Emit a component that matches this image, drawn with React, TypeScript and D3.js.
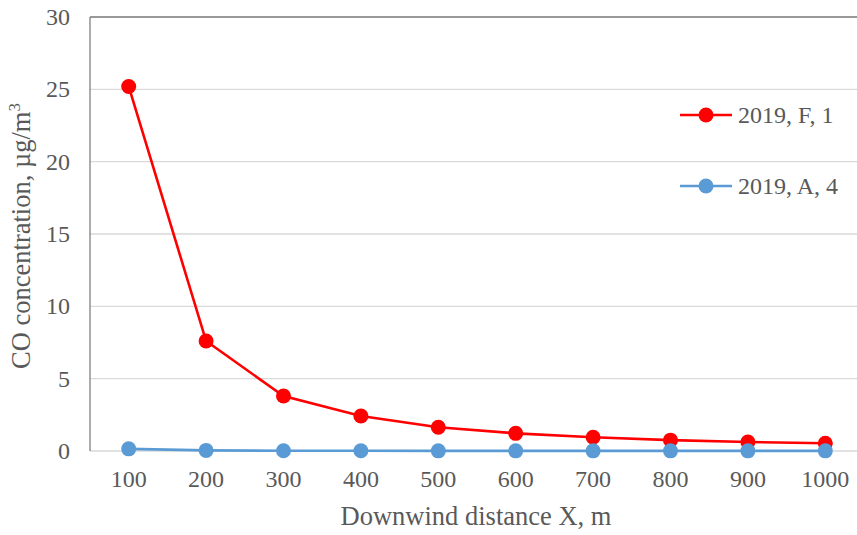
import React from "react";
import * as d3 from "d3";

const categories = ["100", "200", "300", "400", "500", "600", "700", "800", "900", "1000"];
const seriesF1 = [25.2, 7.6, 3.8, 2.42, 1.64, 1.22, 0.95, 0.75, 0.62, 0.54];
const seriesA4 = [0.15, 0.04, 0.02, 0.02, 0.01, 0.01, 0.01, 0.01, 0.01, 0.01];
const yTicks = [0, 5, 10, 15, 20, 25, 30];
const seriesNames = ["2019, F, 1", "2019, A, 4"];
const seriesColors = ["#ff0000", "#5b9bd5"];

export default function App() {
  const W = 857, H = 535;
  const left = 90, top = 17, bottom = 451, right = 864;
  const x = d3.scaleBand<string>().domain(categories).range([left, right]);
  const y = d3.scaleLinear().domain([0, 30]).range([bottom, top]);
  const cx = (c: string) => (x(c) as number) + x.bandwidth() / 2;
  const line = d3
    .line<number>()
    .x((_, i) => cx(categories[i]))
    .y((d) => y(d));
  const font = '"Liberation Serif", "Times New Roman", Times, serif';
  const tc = "#595959";
  const all = [seriesF1, seriesA4];
  const legY = [115, 186];
  return (
    <svg width={W} height={H} style={{ position: "absolute", left: 0, top: 0, fontFamily: font }}>
      <rect x={0} y={0} width={W} height={H} fill="#fff" />
      {yTicks.map((t) => (
        <line key={t} x1={left} x2={right} y1={y(t)} y2={y(t)} stroke="#d9d9d9" strokeWidth={1.3} />
      ))}
      <line x1={left} x2={right} y1={top} y2={top} stroke="#808080" strokeWidth={1.3} />
      <line x1={left} x2={left} y1={top} y2={bottom} stroke="#808080" strokeWidth={1.3} />
      {yTicks.map((t) => (
        <text key={t} x={left - 20} y={y(t)} dy="0.33em" textAnchor="end" fontSize={24} fill={tc} style={{ fontFamily: font }}>
          {t}
        </text>
      ))}
      {categories.map((c) => (
        <text key={c} x={cx(c)} y={487} textAnchor="middle" fontSize={24} fill={tc} style={{ fontFamily: font }}>
          {c}
        </text>
      ))}
      <text x={476} y={525} textAnchor="middle" fontSize={26.5} fill={tc} style={{ fontFamily: font }}>
        Downwind distance X, m
      </text>
      <text transform={`translate(30,236) rotate(-90)`} textAnchor="middle" fontSize={26.5} fill={tc} style={{ fontFamily: font }}>
        CO concentration, µg/m<tspan dy={-10} fontSize={17}>3</tspan>
      </text>
      {all.map((s, si) => (
        <g key={si}>
          <path d={line(s) || ""} fill="none" stroke={seriesColors[si]} strokeWidth={2.6} />
          {s.map((v, i) => (
            <circle key={i} cx={cx(categories[i])} cy={y(v)} r={7.5} fill={seriesColors[si]} />
          ))}
        </g>
      ))}
      {seriesNames.map((n, si) => (
        <g key={n}>
          <line x1={680} x2={732} y1={legY[si]} y2={legY[si]} stroke={seriesColors[si]} strokeWidth={2.6} />
          <circle cx={706} cy={legY[si]} r={7.5} fill={seriesColors[si]} />
          <text x={738} y={legY[si]} dy="0.33em" fontSize={24} fill={tc} style={{ fontFamily: font }}>
            {n}
          </text>
        </g>
      ))}
    </svg>
  );
}
